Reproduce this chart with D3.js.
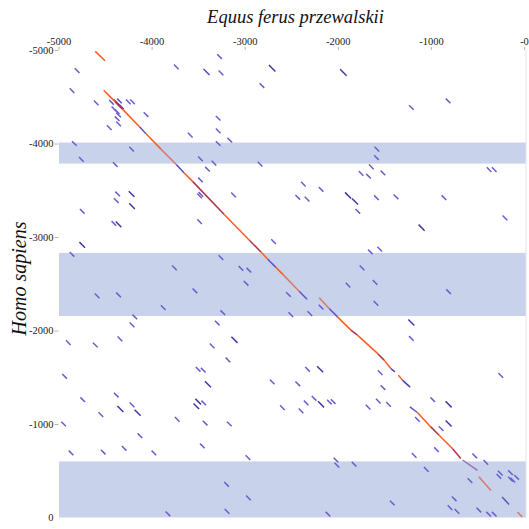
<!DOCTYPE html>
<html>
<head>
<meta charset="utf-8">
<script src="https://cdn.jsdelivr.net/npm/d3@7"></script>
<style>
  body { margin: 0; background: #fff; }
  svg { display: block; font-family: "Liberation Serif", "Times New Roman", serif; }
  .axis text { fill: #222; font-size: 10.5px; font-family: "Liberation Serif", "Times New Roman", serif; }
  .axis line { stroke: #b5b5b5; }
  .title { font-style: italic; fill: #111; }
</style>
</head>
<body>
<svg width="529" height="529"></svg>
<script>
// axis ticks
const xTicks = [-5000, -4000, -3000, -2000, -1000, 0];
const xTickLabels = ['-5000', '-4000', '-3000', '-2000', '-1000', '-0'];
const yTicks = [-5000, -4000, -3000, -2000, -1000, 0];
const yTickLabels = ['-5000', '-4000', '-3000', '-2000', '-1000', '0'];

// shaded regions on the human sequence (start, end)
const bandStarts = [-4010, -2830, -600];
const bandEnds = [-3785, -2155, 0];

// main alignment pieces: x1, y1, x2, y2, identity score
const mainHits = [
    [-4605, -4985, -4500, -4885, 100],
    [-4515, -4570, -4390, -4445, 100],
    [-4390, -4445, -4310, -4365, 85],
    [-4310, -4365, -4130, -4180, 100],
    [-4130, -4180, -4060, -4105, 66],
    [-4060, -4105, -3900, -3940, 100],
    [-3900, -3940, -3735, -3775, 92],
    [-3735, -3775, -3650, -3685, 64],
    [-3650, -3685, -3560, -3595, 100],
    [-3560, -3595, -3220, -3240, 85],
    [-3220, -3240, -2950, -2965, 100],
    [-2950, -2965, -2825, -2840, 85],
    [-2825, -2840, -2755, -2765, 100],
    [-2755, -2765, -2665, -2675, 66],
    [-2665, -2675, -2585, -2595, 100],
    [-2585, -2595, -2415, -2420, 92],
    [-2415, -2420, -2330, -2335, 66],
    [-2200, -2350, -2092, -2236, 92],
    [-2092, -2236, -2003, -2146, 66],
    [-2003, -2146, -1859, -2004, 100],
    [-1859, -2004, -1789, -1950, 85],
    [-1789, -1950, -1574, -1755, 100],
    [-1574, -1755, -1502, -1683, 85],
    [-1502, -1683, -1430, -1594, 100],
    [-1430, -1594, -1387, -1558, 62],
    [-1349, -1522, -1306, -1469, 100],
    [-1306, -1469, -1223, -1394, 62],
    [-1226, -1183, -1145, -1123, 66],
    [-1145, -1123, -1001, -969, 100],
    [-1001, -969, -912, -880, 85],
    [-912, -880, -769, -738, 100],
    [-769, -738, -679, -631, 85],
    [-660, -615, -500, -505, 75],
    [-485, -435, -355, -290, 92],
    [-235, -220, -160, -140, 66],
    [-70, -60, -20, -5, 92]
];

// short hits: mid x, mid y, length, identity score
const hits = [
    [-4800, -4780, 50, 68], [-3735, -4820, 50, 68], [-3410, -4765, 65, 64], [-4855, -4565, 50, 68],
    [-4595, -4435, 50, 68], [-4430, -4440, 50, 66], [-4380, -4445, 50, 62], [-4345, -4455, 50, 66],
    [-4355, -4410, 50, 62], [-4325, -4395, 50, 66], [-4405, -4370, 50, 68], [-4370, -4340, 50, 68],
    [-4355, -4305, 50, 68], [-4250, -4445, 50, 68], [-4205, -4445, 50, 68], [-4060, -4310, 50, 68],
    [-4370, -4265, 50, 68], [-4355, -4210, 50, 68], [-4455, -4170, 50, 68], [-3585, -4090, 50, 68],
    [-4830, -4000, 50, 68], [-4215, -3940, 50, 68], [-4755, -3830, 50, 68], [-3475, -3835, 50, 68],
    [-4390, -3775, 50, 68], [-3400, -3725, 50, 68], [-3475, -3610, 50, 68], [-3485, -3440, 50, 68],
    [-3470, -3455, 50, 68], [-4365, -3460, 50, 68], [-4215, -3460, 60, 60], [-4380, -3390, 50, 68],
    [-4210, -3330, 60, 60], [-4745, -3275, 50, 68], [-3485, -3165, 50, 68], [-4405, -3145, 50, 68],
    [-4355, -3135, 60, 60], [-4745, -2915, 60, 60], [-4855, -2815, 50, 68], [-3755, -2670, 50, 68],
    [-3270, -4930, 50, 68], [-2705, -4805, 70, 60], [-3255, -4755, 50, 68], [-1940, -4760, 70, 60],
    [-2815, -4620, 50, 68], [-3285, -4270, 50, 68], [-3285, -4135, 50, 68], [-3160, -4035, 50, 68],
    [-3285, -4000, 50, 68], [-3330, -3790, 50, 68], [-2835, -3780, 50, 68], [-1750, -3680, 50, 68],
    [-1670, -3650, 50, 68], [-2370, -3565, 50, 68], [-2180, -3510, 50, 68], [-3120, -3450, 50, 68],
    [-2430, -3425, 50, 68], [-2330, -3405, 50, 68], [-1890, -3445, 65, 60], [-1815, -3380, 65, 60],
    [-1785, -3275, 50, 68], [-2690, -2950, 50, 68], [-3255, -2780, 50, 68], [-3040, -2665, 50, 68],
    [-2955, -2645, 50, 68], [-1740, -2670, 50, 68],
    [-815, -4455, 50, 68], [-1210, -4385, 50, 68], [-1580, -3940, 50, 68], [-1585, -3850, 50, 68],
    [-1640, -3750, 50, 68], [-1515, -3685, 50, 68], [-375, -3720, 50, 68], [-320, -3720, 50, 68],
    [-1585, -3420, 50, 68], [-1375, -3430, 50, 68], [-860, -3420, 50, 68], [-205, -3205, 50, 68],
    [-1100, -3100, 65, 60], [-1650, -2840, 50, 68], [-1550, -2870, 50, 68],
    [-4585, -2370, 50, 68], [-4355, -2380, 50, 68], [-3535, -2425, 50, 68], [-3875, -2245, 50, 68],
    [-4180, -2145, 50, 68], [-4210, -2060, 50, 68], [-4895, -1870, 50, 68], [-4605, -1845, 50, 68],
    [-4340, -1910, 50, 68], [-3350, -1835, 50, 68], [-4935, -1510, 50, 68], [-3500, -1585, 50, 68],
    [-3445, -1575, 50, 68], [-3395, -1425, 65, 60], [-4740, -1260, 50, 68], [-4380, -1310, 50, 68],
    [-4210, -1205, 50, 68], [-4335, -1160, 65, 60], [-4150, -1120, 65, 60], [-4545, -1100, 50, 68],
    [-3500, -1240, 60, 60], [-3440, -1225, 50, 68], [-3520, -1190, 60, 60], [-3725, -1050, 50, 68],
    [-3425, -1010, 50, 68], [-4945, -1000, 50, 68], [-4125, -875, 50, 68], [-3455, -765, 50, 68],
    [-4865, -690, 50, 68], [-4520, -700, 50, 68], [-4295, -740, 50, 68], [-3975, -690, 50, 68],
    [-3825, -40, 50, 68],
    [-2985, -2505, 50, 68], [-1890, -2485, 50, 68], [-2530, -2385, 50, 68], [-2180, -2250, 50, 68],
    [-3235, -2190, 50, 68], [-2505, -2170, 50, 68], [-2300, -2180, 50, 68], [-3295, -2080, 50, 68],
    [-3110, -1900, 65, 60], [-3180, -1685, 50, 68], [-2325, -1585, 50, 68], [-2190, -1585, 65, 60],
    [-2705, -1450, 50, 68], [-2430, -1430, 50, 68], [-2255, -1275, 50, 68], [-2340, -1225, 50, 68],
    [-2180, -1210, 65, 60], [-2090, -1235, 50, 68], [-2050, -1240, 50, 68], [-2595, -1175, 50, 68],
    [-2395, -1140, 50, 68], [-1675, -1180, 50, 68], [-3165, -1000, 50, 68], [-2965, -640, 50, 68],
    [-2020, -615, 50, 68], [-2010, -560, 50, 68], [-1825, -570, 50, 68], [-3195, -355, 50, 68],
    [-2960, -210, 50, 68], [-3190, -65, 50, 68], [-2105, -35, 50, 68],
    [-1600, -2515, 50, 68], [-810, -2415, 50, 68], [-1590, -2290, 50, 68], [-1210, -2085, 65, 60],
    [-1210, -1915, 50, 68], [-1545, -1550, 50, 68], [-250, -1520, 50, 68], [-1515, -1390, 50, 68],
    [-980, -1260, 50, 68], [-1565, -1245, 50, 68], [-1455, -1210, 50, 68], [-810, -1210, 65, 60],
    [-1145, -1050, 50, 68], [-810, -1005, 65, 60], [-890, -950, 50, 68], [-940, -725, 50, 68],
    [-1180, -665, 50, 68], [-530, -660, 50, 68], [-410, -590, 50, 68], [-1050, -515, 50, 68],
    [-580, -395, 50, 68], [-255, -475, 50, 68], [-270, -440, 50, 68], [-145, -480, 50, 68],
    [-80, -430, 50, 68], [-145, -410, 50, 68], [-120, -400, 50, 68], [-1415, -155, 50, 68],
    [-750, -200, 50, 68], [-795, -105, 50, 68], [-720, -65, 50, 68], [-485, -80, 50, 68],
    [-380, -35, 50, 68], [-320, -35, 50, 68]
];

const xTitle = 'Equus ferus przewalskii';
const yTitle = 'Homo sapiens';

const svg = d3.select('svg');
const plotLeft = 58.5, plotRight = 524, plotTop = 50, plotBottom = 517.5;

const x = d3.scaleLinear().domain([-5000, 0]).range([plotLeft, plotRight]);
const y = d3.scaleLinear().domain([-5000, 0]).range([plotTop, plotBottom]);

//identity -> colour (purple for weak hits, orange-red for strong)
const colorScale = d3.scaleLinear()
    .domain([60, 68, 75, 85, 92, 100])
    .range(['#4634a6', '#6a5ccf', '#9b6fb4', '#ad3244', '#d9786c', '#ff5a1e']);

//shaded bands
svg.append('g').selectAll('rect')
    .data(bandStarts.map((s, i) => [s, bandEnds[i]]))
    .enter().append('rect')
    .attr('x', plotLeft + 0.5)
    .attr('width', plotRight - plotLeft + 1.5)
    .attr('y', d => y(d[0]))
    .attr('height', d => y(d[1]) - y(d[0]))
    .attr('fill', '#c8d2ea');

//right edge line
svg.append('line')
    .attr('x1', plotRight + 2).attr('x2', plotRight + 2)
    .attr('y1', plotTop).attr('y2', plotBottom)
    .attr('stroke', '#e4e4e4');

//short hits
svg.append('g').selectAll('line')
    .data(hits)
    .enter().append('line')
    .attr('x1', d => x(d[0] - d[2] / 2))
    .attr('y1', d => y(d[1] - d[2] / 2))
    .attr('x2', d => x(d[0] + d[2] / 2))
    .attr('y2', d => y(d[1] + d[2] / 2))
    .attr('stroke', d => colorScale(d[3]))
    .attr('stroke-width', 1.5);

//main diagonal
svg.append('g').selectAll('line')
    .data(mainHits)
    .enter().append('line')
    .attr('x1', d => x(d[0]))
    .attr('y1', d => y(d[1]))
    .attr('x2', d => x(d[2]))
    .attr('y2', d => y(d[3]))
    .attr('stroke', d => colorScale(d[4]))
    .attr('stroke-width', 1.5);

//axes
const xAxis = d3.axisTop(x).tickValues(xTicks)
    .tickFormat((d, i) => xTickLabels[i]).tickSize(3).tickPadding(2);
svg.append('g').attr('class', 'axis')
    .attr('transform', `translate(0, ${plotTop})`)
    .call(xAxis)
    .call(g => g.select('.domain').remove());

const yAxis = d3.axisLeft(y).tickValues(yTicks)
    .tickFormat((d, i) => yTickLabels[i]).tickSize(4).tickPadding(1);
svg.append('g').attr('class', 'axis')
    .attr('transform', `translate(${plotLeft}, 0)`)
    .call(yAxis)
    .call(g => g.select('.domain').remove())
    .call(g => g.selectAll('.tick line').filter(d => d === 0).remove());

//titles
svg.append('text')
    .attr('class', 'title')
    .attr('x', 295.5).attr('y', 23)
    .attr('text-anchor', 'middle')
    .style('font-size', '18.5px')
    .text(xTitle);

svg.append('text')
    .attr('class', 'title')
    .attr('transform', 'translate(25.5, 278.5) rotate(-90)')
    .attr('text-anchor', 'middle')
    .style('font-size', '20px')
    .text(yTitle);
</script>
</body>
</html>
